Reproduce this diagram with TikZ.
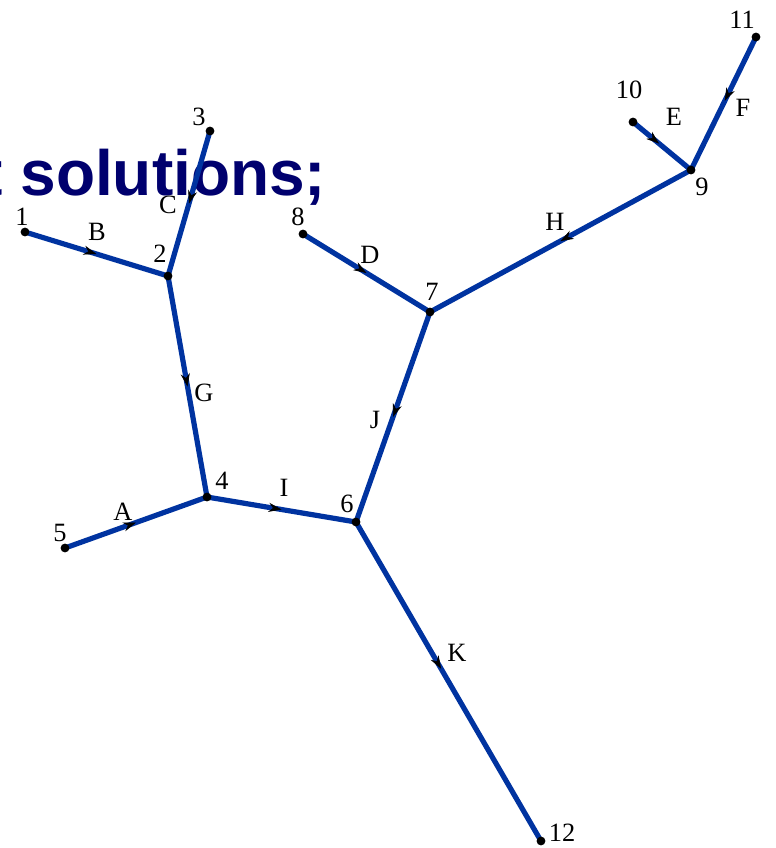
\documentclass[tikz,border=0pt]{standalone}
\usepackage{fontspec}
\setmainfont{Liberation Serif}
\newfontfamily\headfont{Liberation Sans}
\usetikzlibrary{arrows.meta}
\usetikzlibrary{decorations.markings}
\definecolor{EdgeBlue}{RGB}{0,51,160}
\definecolor{HeadNavy}{RGB}{0,0,110}
\tikzset{
	edge/.style={line width=2.6pt, draw=EdgeBlue},
	midarr/.style={edge, postaction={decorate}, decoration={markings, mark=at position #1 with {\arrow[black, line width=0.3pt]{Stealth[length=6.5pt, width=4.6pt, inset=2.2pt]}}}},
	midarr/.default=0.5,
	pt/.style={circle, fill=black, inner sep=0pt, minimum size=4.4pt},
	lab/.style={inner sep=0pt, font=\fontsize{13.2}{15}\selectfont},
	headline/.style={inner sep=0pt, text=HeadNavy, font=\headfont\bfseries\fontsize{32}{36}\selectfont}
}
\begin{document}
\begin{tikzpicture}[x=0.5pt, y=-0.5pt]
		\useasboundingbox (0,0) rectangle (776,848);
		\node[headline, anchor=base west] (hd) at (-19,195) {t solutions;};
		\coordinate (v1) at (25,232);
		\coordinate (v2) at (168,276);
		\coordinate (v3) at (210,131);
		\coordinate (v4) at (207,497);
		\coordinate (v5) at (65,548);
		\coordinate (v6) at (356,522);
		\coordinate (v7) at (430,312);
		\coordinate (v8) at (303,234);
		\coordinate (v9) at (691,170);
		\coordinate (v10) at (633,122);
		\coordinate (v11) at (756,37);
		\coordinate (v12) at (541,841);
		\draw[midarr] (v5) -- (v4);
		\draw[midarr] (v1) -- (v2);
		\draw[midarr] (v3) -- (v2);
		\draw[midarr] (v8) -- (v7);
		\draw[midarr=0.45] (v10) -- (v9);
		\draw[midarr=0.48] (v11) -- (v9);
		\draw[midarr] (v2) -- (v4);
		\draw[midarr] (v9) -- (v7);
		\draw[midarr] (v4) -- (v6);
		\draw[midarr] (v7) -- (v6);
		\draw[midarr=0.46] (v6) -- (v12);
		\foreach \i in {1,...,12}
			\node[pt] (d\i) at (v\i) {};
		\node[lab] (eA) at (123,512) {A};
		\node[lab] (eB) at (97,232) {B};
		\node[lab] (eC) at (168,205) {C};
		\node[lab] (eD) at (370,255) {D};
		\node[lab] (eE) at (674,117) {E};
		\node[lab] (eF) at (743,108) {F};
		\node[lab] (eG) at (204,393) {G};
		\node[lab] (eH) at (555,222) {H};
		\node[lab] (eI) at (284,488) {I};
		\node[lab] (eJ) at (375,420) {J};
		\node[lab] (eK) at (457,653) {K};
		\node[lab] (n1) at (22,217) {1};
		\node[lab] (n2) at (160,254) {2};
		\node[lab] (n3) at (199,117) {3};
		\node[lab] (n4) at (222,481) {4};
		\node[lab] (n5) at (60,533) {5};
		\node[lab] (n6) at (347,504) {6};
		\node[lab] (n7) at (432,292) {7};
		\node[lab] (n8) at (298,217) {8};
		\node[lab] (n9) at (702,187) {9};
		\node[lab] (n10) at (629,90) {10};
		\node[lab] (n11) at (742,20) {11};
		\node[lab] (n12) at (562,833) {12};
	\end{tikzpicture}
\end{document}
